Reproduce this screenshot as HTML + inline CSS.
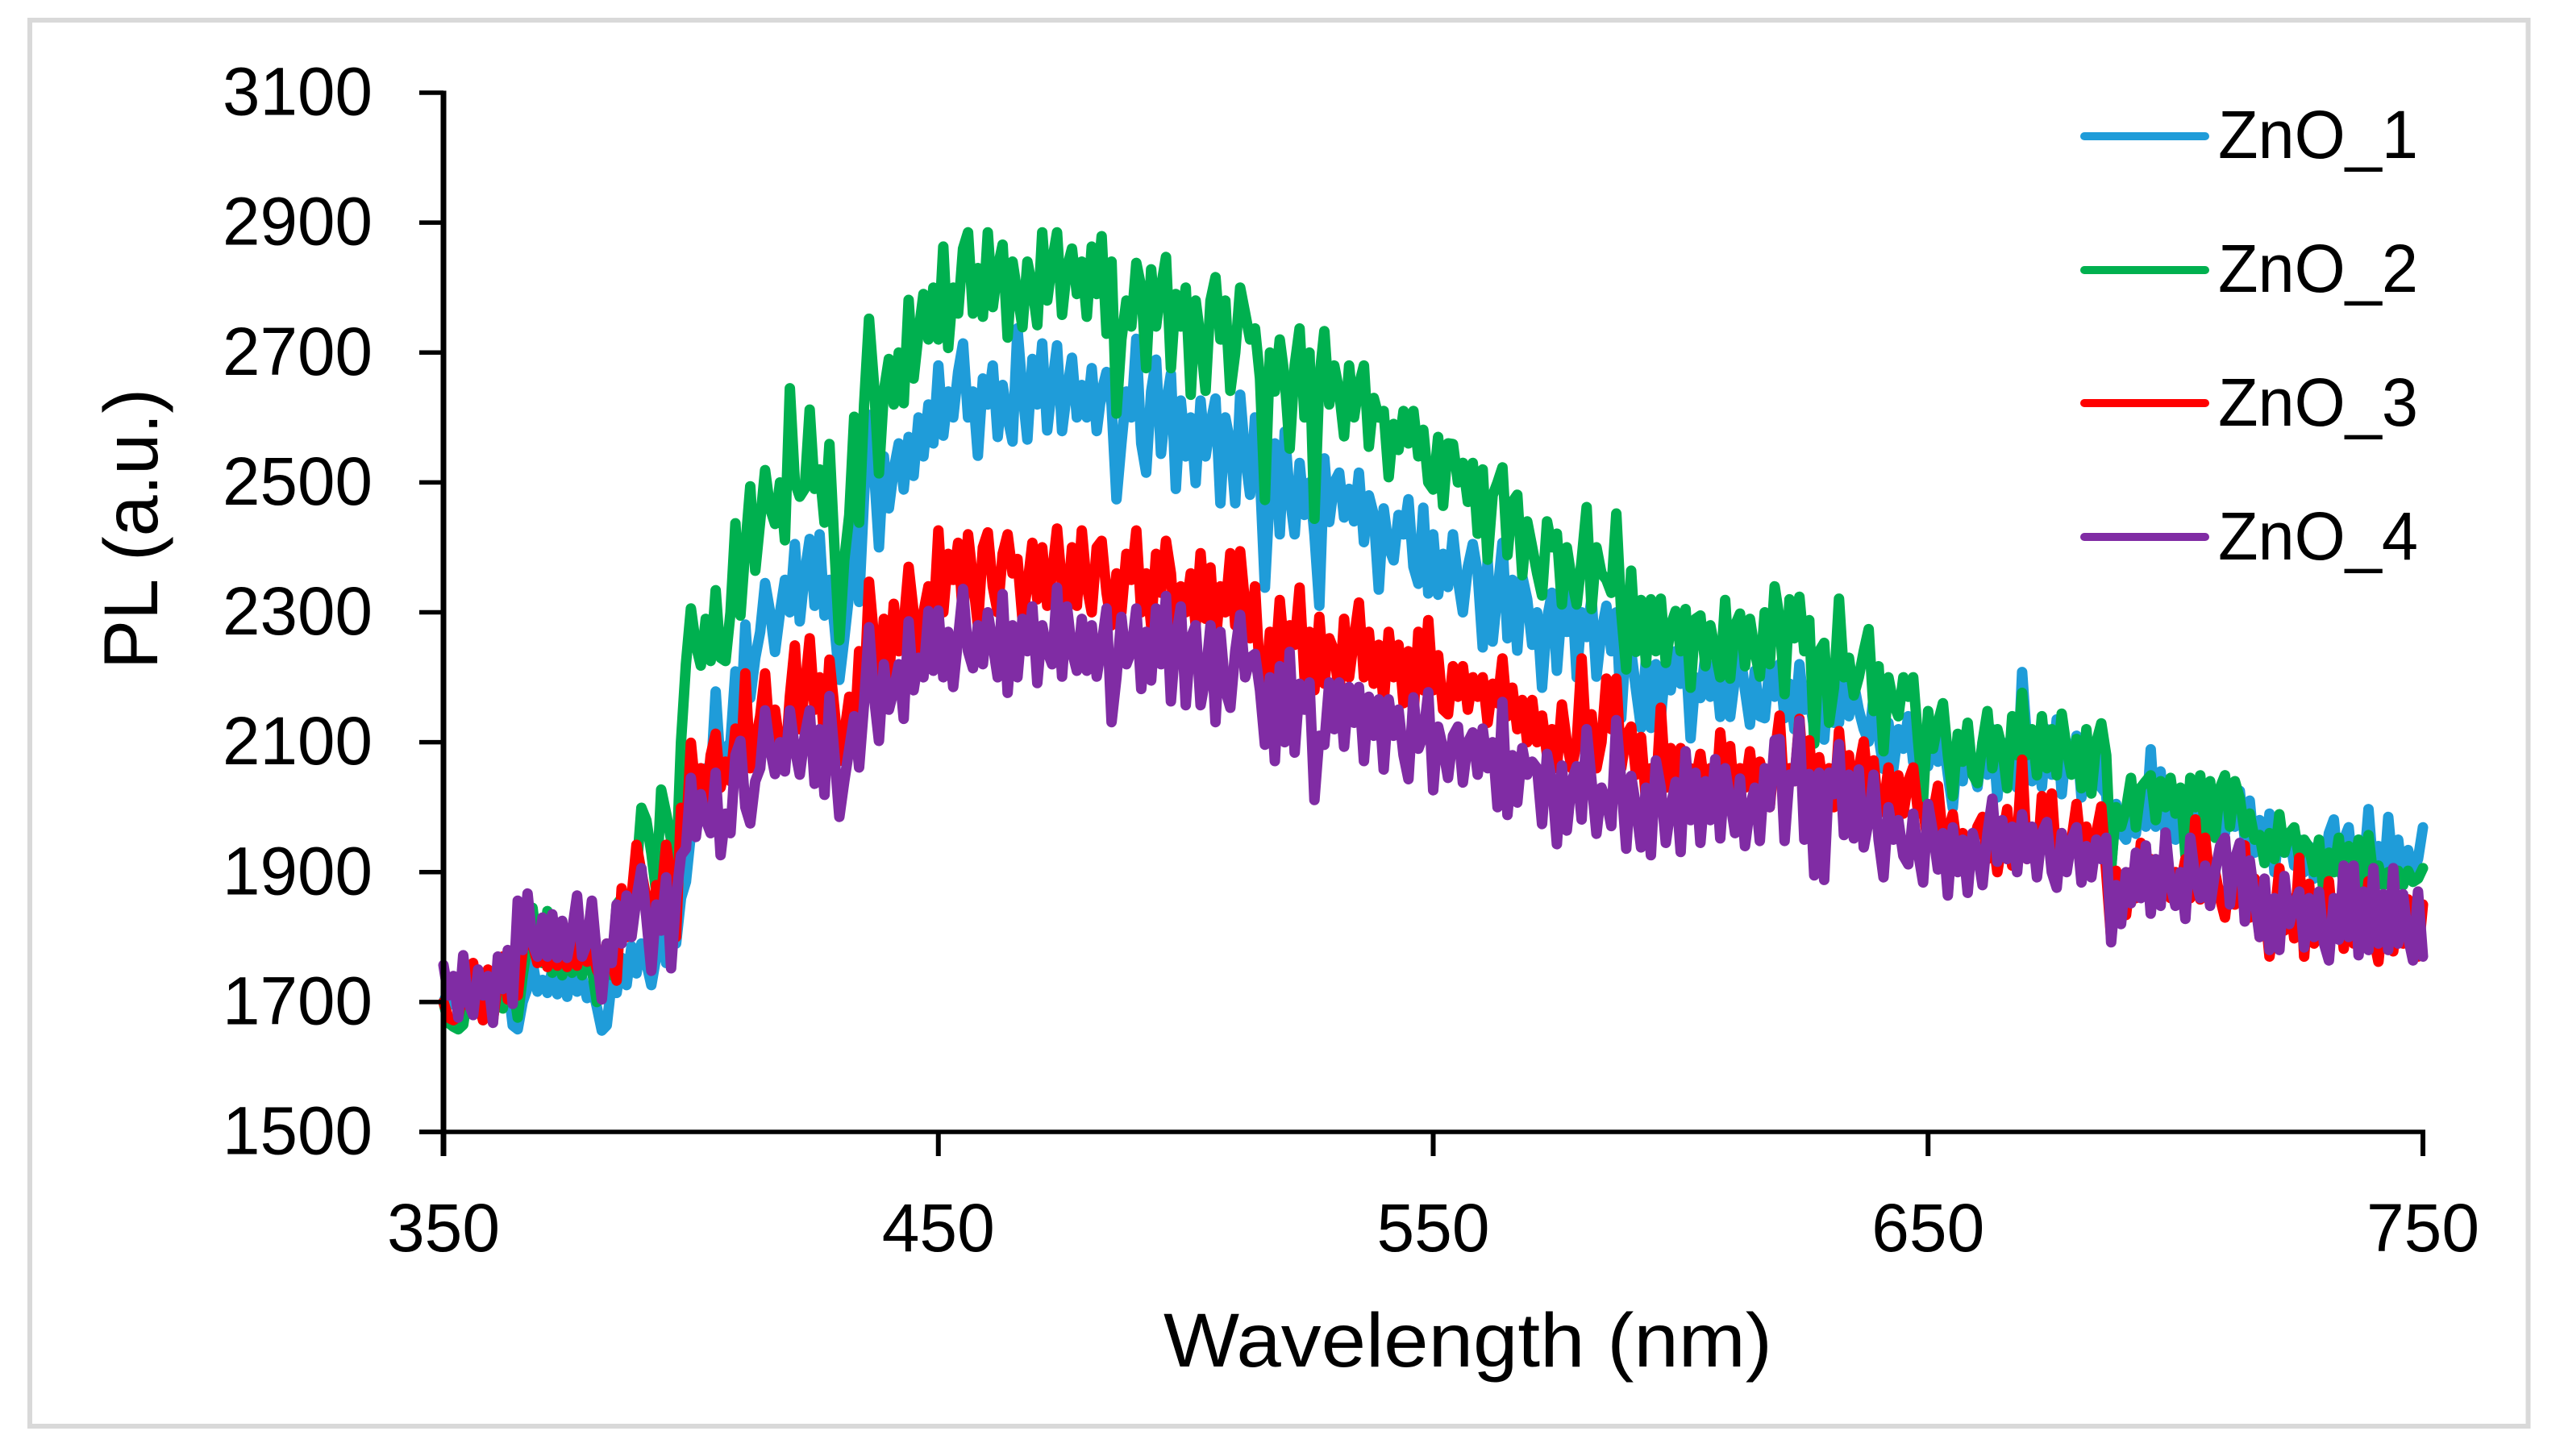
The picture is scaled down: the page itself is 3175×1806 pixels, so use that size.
<!DOCTYPE html>
<html lang="en">
<head>
<meta charset="utf-8">
<title>PL spectra of ZnO samples</title>
<style>
html,body{margin:0;padding:0;background:#fff;}
svg{display:block;}
text{font-family:"Liberation Sans",sans-serif;fill:#000;}
</style>
</head>
<body>
<svg id="chart" xmlns="http://www.w3.org/2000/svg" width="3175" height="1806" viewBox="0 0 3175 1806">
  <rect x="37" y="25" width="3098.5" height="1744" fill="#fff" stroke="#d9d9d9" stroke-width="6"/>
  <g id="series-layer"></g>
  <g id="axis-layer"></g>
  <text x="1443" y="1695" font-size="95" textLength="755" lengthAdjust="spacingAndGlyphs">Wavelength (nm)</text>
  <text transform="translate(195,830) rotate(-90)" x="0" y="0" font-size="95" textLength="348" lengthAdjust="spacingAndGlyphs">PL (a.u.)</text>
  <g>
    <g>
      <line x1="2585" y1="169" x2="2735" y2="169" stroke="#1f9cd9" stroke-width="10" stroke-linecap="round"/>
      <text x="2751" y="196" font-size="84" textLength="248" lengthAdjust="spacingAndGlyphs">ZnO_1</text>
    </g>
    <g>
      <line x1="2585" y1="335" x2="2735" y2="335" stroke="#00b04f" stroke-width="10" stroke-linecap="round"/>
      <text x="2751" y="362" font-size="84" textLength="248" lengthAdjust="spacingAndGlyphs">ZnO_2</text>
    </g>
    <g>
      <line x1="2585" y1="500" x2="2735" y2="500" stroke="#ff0000" stroke-width="10" stroke-linecap="round"/>
      <text x="2751" y="528" font-size="84" textLength="248" lengthAdjust="spacingAndGlyphs">ZnO_3</text>
    </g>
    <g>
      <line x1="2585" y1="666" x2="2735" y2="666" stroke="#802ca4" stroke-width="10" stroke-linecap="round"/>
      <text x="2751" y="694" font-size="84" textLength="248" lengthAdjust="spacingAndGlyphs">ZnO_4</text>
    </g>
  </g>
</svg>
<script>
const wavelengthStart = 350;
const wavelengthStep = 1;
const xTickLabels = [350, 450, 550, 650, 750];
const yTickLabels = [1500, 1700, 1900, 2100, 2300, 2500, 2700, 2900, 3100];

const zno1 = [
1700,1718,1696,1722,1704,1728,1712,1738,1716,1734,
1720,1742,1706,1730,1664,1658,1700,1722,1762,1716,
1734,1714,1750,1712,1744,1708,1752,1716,1738,1706,
1726,1692,1656,1664,1732,1714,1768,1726,1786,1744,
1790,1760,1726,1770,1810,1760,1830,1790,1860,1885,
1960,2020,2000,2060,2040,2178,2060,2090,2100,2209,
2120,2281,2168,2230,2270,2345,2300,2239,2300,2350,
2300,2405,2286,2360,2413,2310,2420,2295,2350,2280,
2196,2260,2330,2477,2316,2480,2604,2520,2400,2540,
2460,2520,2560,2489,2570,2510,2600,2540,2620,2560,
2680,2572,2640,2600,2670,2714,2600,2640,2541,2660,
2620,2680,2570,2650,2600,2563,2737,2640,2566,2690,
2620,2714,2580,2650,2711,2579,2640,2692,2600,2650,
2600,2676,2579,2640,2670,2620,2474,2560,2640,2600,
2721,2560,2515,2640,2689,2544,2620,2667,2490,2626,
2540,2600,2499,2626,2540,2590,2629,2468,2600,2560,
2468,2635,2540,2481,2600,2510,2338,2490,2560,2420,
2578,2480,2420,2530,2450,2500,2420,2310,2537,2439,
2500,2515,2446,2490,2440,2515,2408,2480,2450,2335,
2460,2400,2380,2450,2420,2474,2370,2344,2461,2329,
2420,2327,2390,2339,2420,2350,2300,2370,2405,2360,
2246,2380,2255,2330,2407,2260,2350,2241,2355,2320,
2250,2300,2184,2290,2330,2210,2310,2270,2340,2200,
2300,2262,2322,2201,2270,2310,2240,2300,2137,2260,
2240,2180,2122,2230,2122,2220,2139,2220,2180,2240,
2190,2240,2106,2200,2168,2235,2170,2220,2139,2210,
2139,2200,2240,2180,2127,2210,2140,2137,2220,2170,
2220,2137,2190,2120,2220,2150,2170,2120,2210,2104,
2200,2130,2130,2220,2140,2190,2150,2120,2101,2170,
2110,2059,2130,2060,2120,2090,2140,2070,2110,2100,
2063,2120,2070,2110,2050,1999,2090,2040,2110,2060,
2031,2100,2050,2120,2015,2100,2060,2110,2030,2208,
2100,2040,2100,2031,2120,2050,2135,2020,2100,2060,
2110,2015,2090,2040,2100,2030,2020,1905,2005,1960,
1950,2000,1959,2030,1970,2089,1970,2055,1960,2030,
1950,2000,1947,2020,1960,2030,1970,2020,1980,2010,
1960,2020,1970,2025,1950,2010,1930,1980,1920,1990,
1900,1970,1930,1957,1910,1950,1900,1940,1890,1930,
1904,1960,1981,1900,1950,1969,1890,1950,1900,1997,
1900,1940,1880,1985,1900,1950,1880,1934,1900,1920,
1969];

const zno2 = [
1700,1668,1662,1658,1665,1720,1680,1745,1672,1745,
1700,1750,1690,1760,1730,1676,1740,1790,1845,1780,
1760,1840,1745,1790,1741,1810,1745,1790,1741,1800,
1750,1700,1745,1770,1741,1850,1860,1800,1860,1900,
1999,1980,1930,1868,2027,1990,1950,1900,2100,2220,
2306,2250,2218,2290,2225,2334,2230,2225,2300,2437,
2295,2400,2494,2364,2440,2519,2460,2436,2500,2411,
2645,2500,2478,2490,2612,2490,2520,2438,2559,2400,
2257,2380,2450,2601,2438,2620,2752,2650,2514,2640,
2690,2620,2700,2622,2781,2660,2730,2790,2720,2800,
2720,2863,2707,2800,2760,2860,2885,2760,2830,2755,
2885,2770,2830,2866,2723,2840,2790,2739,2840,2800,
2742,2885,2780,2840,2885,2758,2830,2860,2790,2840,
2755,2863,2790,2879,2729,2840,2606,2720,2780,2740,
2838,2800,2676,2828,2740,2800,2847,2676,2790,2740,
2800,2635,2780,2720,2641,2780,2816,2720,2780,2641,
2700,2800,2760,2720,2737,2660,2473,2700,2640,2720,
2660,2552,2680,2737,2600,2700,2444,2660,2733,2620,
2680,2640,2571,2680,2600,2650,2680,2555,2630,2600,
2610,2508,2590,2550,2610,2560,2610,2540,2581,2500,
2489,2570,2464,2560,2559,2500,2530,2470,2530,2421,
2520,2381,2480,2500,2523,2388,2470,2481,2357,2440,
2400,2360,2326,2440,2400,2421,2312,2400,2350,2312,
2380,2462,2305,2400,2360,2350,2330,2452,2300,2212,
2364,2239,2319,2222,2320,2240,2321,2222,2280,2302,
2240,2305,2184,2290,2295,2217,2280,2240,2200,2319,
2198,2280,2298,2217,2290,2240,2201,2300,2220,2340,
2290,2174,2320,2260,2324,2240,2288,2098,2240,2253,
2130,2184,2321,2200,2230,2172,2200,2240,2274,2148,
2217,2086,2200,2160,2140,2200,2170,2200,2100,2013,
2148,2090,2130,2160,2080,2017,2113,2070,2130,2050,
2037,2100,2148,2060,2120,2090,2029,2140,2080,2176,
2080,2120,2049,2140,2060,2120,2049,2144,2090,2050,
2105,2029,2120,2021,2100,2129,2080,1906,2000,1970,
1997,2045,1969,2030,2040,2049,1980,2040,2000,2045,
1990,2030,1926,2045,2000,2049,1960,2040,1953,2030,
2049,1970,2040,2013,1960,1990,1950,1957,1914,1960,
1920,1989,1930,1960,1969,1920,1950,1938,1900,1950,
1858,1930,1900,1953,1874,1940,1900,1950,1880,1957,
1890,1910,1880,1900,1882,1902,1880,1902,1885,1890,
1906];

const zno3 = [
1700,1676,1672,1678,1720,1695,1760,1700,1672,1750,
1672,1730,1770,1704,1760,1710,1780,1797,1790,1760,
1790,1754,1800,1756,1790,1754,1800,1756,1790,1762,
1780,1750,1733,1790,1760,1733,1875,1800,1860,1942,
1900,1860,1800,1880,1860,1942,1890,1800,1999,1950,
2099,2020,2060,2000,2080,2113,2030,2070,2040,2121,
2050,2206,2060,2100,2140,2206,2100,2150,2090,2060,
2170,2249,2120,2180,2260,2150,2200,2100,2227,2150,
2071,2113,2170,2100,2240,2170,2347,2260,2183,2290,
2190,2313,2240,2280,2370,2300,2239,2300,2340,2280,
2426,2300,2390,2350,2407,2290,2420,2350,2280,2400,
2423,2340,2300,2390,2420,2360,2382,2290,2340,2407,
2320,2400,2310,2360,2429,2340,2300,2400,2310,2426,
2340,2300,2400,2410,2330,2280,2360,2300,2390,2350,
2426,2300,2360,2280,2390,2330,2410,2360,2250,2340,
2300,2360,2280,2391,2290,2369,2250,2340,2300,2391,
2280,2394,2310,2260,2340,2200,2172,2270,2210,2319,
2230,2280,2250,2338,2200,2270,2180,2293,2190,2260,
2240,2170,2290,2200,2260,2315,2200,2270,2190,2250,
2160,2270,2200,2250,2160,2240,2140,2270,2180,2288,
2180,2234,2150,2143,2217,2170,2217,2150,2200,2170,
2200,2130,2190,2160,2229,2140,2184,2120,2165,2100,
2165,2100,2141,2080,2120,2060,2158,2100,2060,2100,
2229,2090,2143,2060,2100,2198,2120,2198,2060,2110,
2124,2050,2108,2010,2060,2020,2153,2030,2091,2020,
2091,2000,2060,2040,2082,2020,2060,2000,2115,2030,
2094,2000,2060,2030,2086,2020,2070,2040,2000,2080,
2141,2010,2060,2040,2136,2030,2103,2000,2077,2020,
2060,2000,2117,2030,2080,2000,2060,2101,2020,2072,
1990,2000,2061,1980,2049,1990,2040,2061,1990,2000,
1940,1990,2033,1950,1960,1989,1930,1960,1920,1940,
1970,1985,1920,1960,1900,1950,1997,1910,1950,2073,
1920,1960,1905,2017,1950,2021,1910,1960,1920,1950,
2005,1930,1970,1905,1960,2001,1900,1798,1902,1860,
1834,1900,1860,1945,1870,1920,1880,1870,1941,1860,
1900,1880,1920,1860,1981,1858,1953,1880,1900,1860,
1830,1900,1850,1920,1941,1830,1890,1800,1850,1770,
1830,1906,1810,1860,1798,1922,1770,1882,1790,1840,
1800,1886,1800,1850,1782,1860,1790,1840,1800,1886,
1800,1762,1840,1790,1778,1850,1790,1858,1800,1770,
1850];

const zno4 = [
1757,1710,1740,1676,1772,1700,1680,1750,1710,1740,
1668,1770,1720,1780,1697,1856,1780,1867,1790,1770,
1830,1770,1835,1768,1825,1768,1810,1864,1770,1790,
1856,1770,1704,1790,1760,1850,1790,1864,1800,1860,
1906,1830,1748,1850,1810,1892,1752,1860,1926,1936,
2045,1954,2020,1980,1960,2053,1926,1990,1960,2080,
2102,2000,1975,2040,2060,2149,2090,2051,2100,2055,
2149,2090,2050,2110,2149,2036,2120,2019,2171,2080,
1985,2040,2090,2140,2061,2160,2277,2170,2102,2220,
2150,2180,2220,2136,2286,2180,2230,2200,2302,2210,
2303,2200,2270,2185,2260,2336,2240,2214,2280,2220,
2300,2250,2200,2328,2176,2280,2200,2290,2240,2309,
2191,2280,2240,2220,2338,2201,2309,2240,2210,2290,
2210,2280,2201,2250,2306,2131,2200,2293,2220,2240,
2306,2182,2270,2195,2306,2220,2325,2163,2260,2309,
2157,2260,2280,2157,2200,2280,2131,2270,2180,2153,
2240,2296,2200,2230,2236,2180,2096,2200,2071,2217,
2100,2239,2084,2190,2150,2192,2011,2110,2096,2192,
2120,2192,2093,2185,2130,2185,2071,2170,2110,2166,
2058,2166,2110,2150,2080,2043,2169,2090,2110,2177,
2026,2124,2090,2045,2110,2124,2038,2100,2115,2050,
2121,2060,2100,2000,2162,1988,2080,2007,2091,2050,
2070,2060,1974,2082,2040,1943,2064,1964,2040,2063,
1981,2120,2040,1959,2030,2010,1971,2134,2040,1936,
2048,2000,1938,2030,1926,2072,2030,1945,2000,2039,
1931,2086,1980,2053,1945,2040,1980,2074,1952,2060,
2010,1960,2044,1940,2000,2030,1948,2060,2000,2103,
2105,1948,2050,2040,2133,1950,2051,1895,2053,1888,
2053,2020,2097,1957,2050,1952,2058,1938,1980,2050,
1950,1892,2000,1950,1980,1925,1912,1990,1930,1884,
2005,1960,1904,1960,1864,1969,1900,1950,1868,1960,
1930,1880,1960,2013,1916,1980,1920,1970,1900,1989,
1920,1970,1892,1960,1977,1900,1876,1960,1900,1950,
1969,1884,1940,1892,1950,1920,1953,1792,1880,1820,
1900,1852,1930,1860,1941,1836,1920,1848,1961,1880,
1848,1900,1828,1953,1890,1860,1910,1848,1900,1940,
1953,1850,1920,1945,1824,1918,1860,1800,1890,1780,
1860,1780,1894,1820,1850,1870,1784,1860,1800,1870,
1790,1764,1860,1796,1910,1800,1910,1772,1870,1780,
1906,1790,1866,1780,1906,1790,1866,1800,1764,1870,
1770];

const seriesList = [zno1, zno2, zno3, zno4];
const seriesColors = ['#1f9cd9', '#00b04f', '#ff0000', '#802ca4'];

const SVG_NS = 'http://www.w3.org/2000/svg';
const xMin = 350, xMax = 750, xLeft = 550, xRight = 3005;
const yMin = 1500, yMax = 3100, yBottom = 1404, yTop = 115;

function xScale(v) {
  return xLeft + (v - xMin) / (xMax - xMin) * (xRight - xLeft);
}
function yScale(v) {
  return yBottom - (v - yMin) / (yMax - yMin) * (yBottom - yTop);
}
function makeLine(x1, y1, x2, y2, w) {
  const el = document.createElementNS(SVG_NS, 'line');
  el.setAttribute('x1', x1);
  el.setAttribute('y1', y1);
  el.setAttribute('x2', x2);
  el.setAttribute('y2', y2);
  el.setAttribute('stroke', '#000');
  el.setAttribute('stroke-width', w);
  return el;
}

const seriesLayer = document.getElementById('series-layer');
seriesList.forEach(function (values, s) {
  let d = '';
  values.forEach(function (v, i) {
    const px = xScale(wavelengthStart + i * wavelengthStep);
    const py = yScale(v);
    d += (i === 0 ? 'M' : 'L') + px.toFixed(1) + ' ' + py.toFixed(1);
  });
  const path = document.createElementNS(SVG_NS, 'path');
  
  
  path.setAttribute('d', d);
  path.setAttribute('fill', 'none');
  path.setAttribute('stroke', seriesColors[s]);
  path.setAttribute('stroke-width', '13');
  path.setAttribute('stroke-linejoin', 'round');
  path.setAttribute('stroke-linecap', 'round');
  seriesLayer.appendChild(path);
});

const axisLayer = document.getElementById('axis-layer');
const yAxisLine = makeLine(xLeft, yTop - 2.5, xLeft, yBottom + 30, 7);


axisLayer.appendChild(yAxisLine);
const xAxisLine = makeLine(xLeft - 30, yBottom, xRight + 3, yBottom, 5.5);


axisLayer.appendChild(xAxisLine);

yTickLabels.forEach(function (t) {
  const py = yScale(t);
  const tick = makeLine(xLeft - 30, py, xLeft, py, 5.5);
  
  
  axisLayer.appendChild(tick);
  const label = document.createElementNS(SVG_NS, 'text');
  
  
  label.setAttribute('x', 462);
  label.setAttribute('y', py + 27.5);
  label.setAttribute('text-anchor', 'end');
  label.setAttribute('font-size', 84);
  label.setAttribute('textLength', 186);
  label.setAttribute('lengthAdjust', 'spacingAndGlyphs');
  label.textContent = t;
  axisLayer.appendChild(label);
});

xTickLabels.forEach(function (t) {
  const px = xScale(t);
  const tick = makeLine(px, yBottom, px, yBottom + 30, 6);
  
  
  axisLayer.appendChild(tick);
  const label = document.createElementNS(SVG_NS, 'text');
  
  
  label.setAttribute('x', px);
  label.setAttribute('y', 1552);
  label.setAttribute('text-anchor', 'middle');
  label.setAttribute('font-size', 84);
  label.setAttribute('textLength', 140);
  label.setAttribute('lengthAdjust', 'spacingAndGlyphs');
  label.textContent = t;
  axisLayer.appendChild(label);
});
</script>
</body>
</html>
